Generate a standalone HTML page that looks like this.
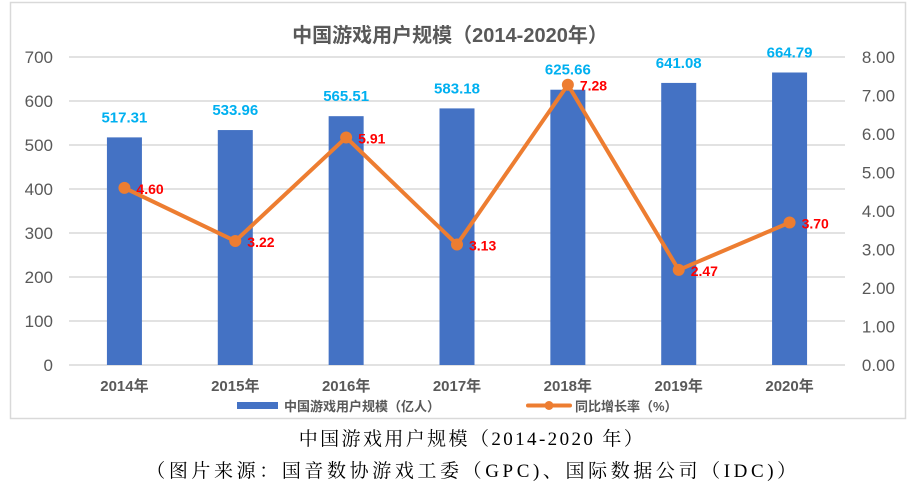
<!DOCTYPE html>
<html><head><meta charset="utf-8"><style>
body{margin:0;background:#fff;width:915px;height:497px;overflow:hidden}
svg text{font-family:"Liberation Sans","Noto Sans CJK SC",sans-serif}
</style></head><body>
<svg width="915" height="497">
<rect x="10.5" y="2.5" width="895" height="416" fill="#fff" stroke="#d9d9d9" stroke-width="1.5"/>
<text x="450" y="42" text-anchor="middle" font-size="20" font-weight="bold" fill="#595959">中国游戏用户规模（2014-2020年）</text>
<g id="grid"></g><g id="bars"></g><g id="line"></g><g id="labels"></g>
<g>
<rect x="237" y="402" width="41" height="7" fill="#4472c4"/>
<text x="284" y="411" font-size="13" font-weight="bold" fill="#595959">中国游戏用户规模（亿人）</text>
<line x1="528" y1="405.5" x2="570" y2="405.5" stroke="#ed7d31" stroke-width="4" stroke-linecap="round"/>
<circle cx="549" cy="405.5" r="4.5" fill="#ed7d31"/>
<text x="575" y="411" font-size="13" font-weight="bold" fill="#595959">同比增长率（%）</text>
</g>
<text x="472" y="445" text-anchor="middle" font-size="19" letter-spacing="2.4" fill="#000" style="font-family:'Liberation Serif','Noto Serif CJK SC',serif">中国游戏用户规模（2014-2020 年）</text>
<text x="473" y="477" text-anchor="middle" font-size="19" letter-spacing="3.6" fill="#000" style="font-family:'Liberation Serif','Noto Serif CJK SC',serif">（图片来源：国音数协游戏工委（GPC)、国际数据公司（IDC)）</text>
</svg>
<script>
const categories=["2014年","2015年","2016年","2017年","2018年","2019年","2020年"];
const users=[517.31,533.96,565.51,583.18,625.66,641.08,664.79];
const growth=[4.60,3.22,5.91,3.13,7.28,2.47,3.70];
const leftTicks=[0,100,200,300,400,500,600,700];
const rightTicks=[0,1,2,3,4,5,6,7,8];
const NS="http://www.w3.org/2000/svg";
const y0=365,yTop=57,x0=69,x1=845;
const yL=v=>y0-(v/700)*(y0-yTop);
const yR=v=>y0-(v/8)*(y0-yTop);
const step=(x1-x0)/categories.length;
const xC=i=>x0+step*(i+0.5);
function mk(t,a,p,txt){const e=document.createElementNS(NS,t);for(const k in a)e.setAttribute(k,a[k]);if(txt!=null)e.textContent=txt;document.getElementById(p).appendChild(e);return e;}
leftTicks.forEach(v=>{
 const l=mk('line',{x1:x0,x2:x1,y1:yL(v),y2:yL(v),stroke:'#d9d9d9','stroke-width':1.5},'grid');
 
 
 const t=mk('text',{x:53,y:yL(v)+6,'text-anchor':'end','font-size':17,fill:'#595959'},'grid',v);
 
 
});
rightTicks.forEach(v=>{
 const t=mk('text',{x:895,y:yR(v)+6,'text-anchor':'end','font-size':17,fill:'#595959'},'grid',v.toFixed(2));
 
 
});
categories.forEach((c,i)=>{
 const b=mk('rect',{x:xC(i)-17.5,y:yL(users[i]),width:35,height:y0-yL(users[i]),fill:'#4472c4'},'bars');
 
 
 const t=mk('text',{x:xC(i),y:yL(users[i])-15,'text-anchor':'middle','font-size':15,'font-weight':'bold',fill:'#00b0f0'},'labels',users[i].toFixed(2));
 
 
 const xl=mk('text',{x:xC(i),y:391,'text-anchor':'middle','font-size':15,'font-weight':'bold',fill:'#595959'},'labels',c);
 
 
});
const pts=growth.map((g,i)=>xC(i)+','+yR(g)).join(' ');
const pl=mk('polyline',{points:pts,fill:'none',stroke:'#ed7d31','stroke-width':4,'stroke-linejoin':'round'},'line');


growth.forEach((g,i)=>{
 const c=mk('circle',{cx:xC(i),cy:yR(g),r:6,fill:'#ed7d31'},'line');
 
 
 const t=mk('text',{x:xC(i)+12,y:yR(g)+6,'font-size':14,'font-weight':'bold',fill:'#ff0000'},'labels',g.toFixed(2));
 
 
});
</script>
</body></html>
